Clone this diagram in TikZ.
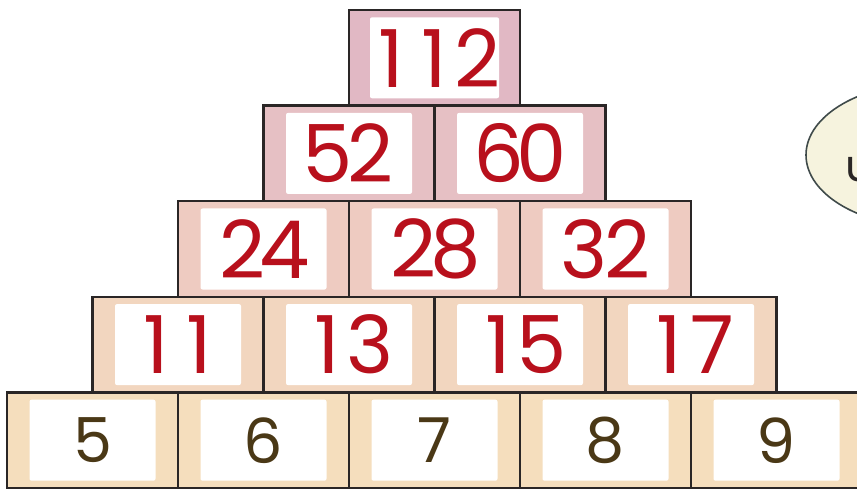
\documentclass[tikz,border=0pt]{standalone}
\usepackage{fontspec}
\usetikzlibrary{shapes.geometric}
\setmainfont{Poppins}
\definecolor{row0}{HTML}{E1B8C4}
\definecolor{row1}{HTML}{E6C0C4}
\definecolor{row2}{HTML}{EECBC1}
\definecolor{row3}{HTML}{F2D6BF}
\definecolor{row4}{HTML}{F5DEBD}
\definecolor{edge}{HTML}{2A2626}
\definecolor{numred}{HTML}{B8101C}
\definecolor{numbrown}{HTML}{4A3816}
\definecolor{bubblefill}{HTML}{F6F3DE}
\definecolor{bubbleedge}{HTML}{3F4A4A}
\newcommand\tabnum[1]{\tabnumloop#1\relax}
\def\tabnumloop#1{\ifx#1\relax\else\makebox[43pt]{#1}\expandafter\tabnumloop\fi}
\begin{document}
\begin{tikzpicture}[x=1pt,y=-1pt,
  brick/.style={draw=edge, line width=2.4pt, minimum width=171pt, minimum height=95.6pt, inner sep=0pt, outer sep=0pt},
  face/.style={fill=white, rounded corners=2pt, minimum width=126pt, minimum height=81pt, inner sep=0pt},
  rednum/.style={text=numred, font=\fontsize{80}{80}\selectfont},
  basenum/.style={text=numbrown, font=\fontsize{62}{62}\selectfont},
  bubble/.style={draw=bubbleedge, fill=bubblefill, line width=1.6pt}]
\useasboundingbox (0,0) rectangle (857,489);
\clip (0,0) rectangle (857,489);
% speech bubble at the right
\node[bubble, ellipse, minimum width=248pt, minimum height=144pt, inner sep=0pt] (bub) at (930,155) {};
\node[anchor=west, text=edge, font=\fontsize{44}{44}\selectfont, inner sep=0pt] (bubtxt) at (845,170) {u};
% bricks
\foreach \r/\nums in {0/{112}, 1/{52,60}, 2/{24,28,32}, 3/{11,13,15,17}} {
  \foreach \n [count=\i from 0] in \nums {
    \node[brick, fill=row\r] (b-\r-\i) at ({349+85.5-85.5*\r+171*\i},{10+47.8+95.6*\r}) {};
    \node[face, rednum] (f-\r-\i) at (b-\r-\i.center) {\expandafter\tabnum\expandafter{\n}};
  }
}
\foreach \n [count=\i from 0] in {5,6,7,8,9} {
  \node[brick, fill=row4] (b-4-\i) at ({7+85.5+171*\i},{10+47.8+95.6*4}) {};
  \node[face, basenum] (f-4-\i) at (b-4-\i.center) {\n};
}
\end{tikzpicture}
\end{document}
